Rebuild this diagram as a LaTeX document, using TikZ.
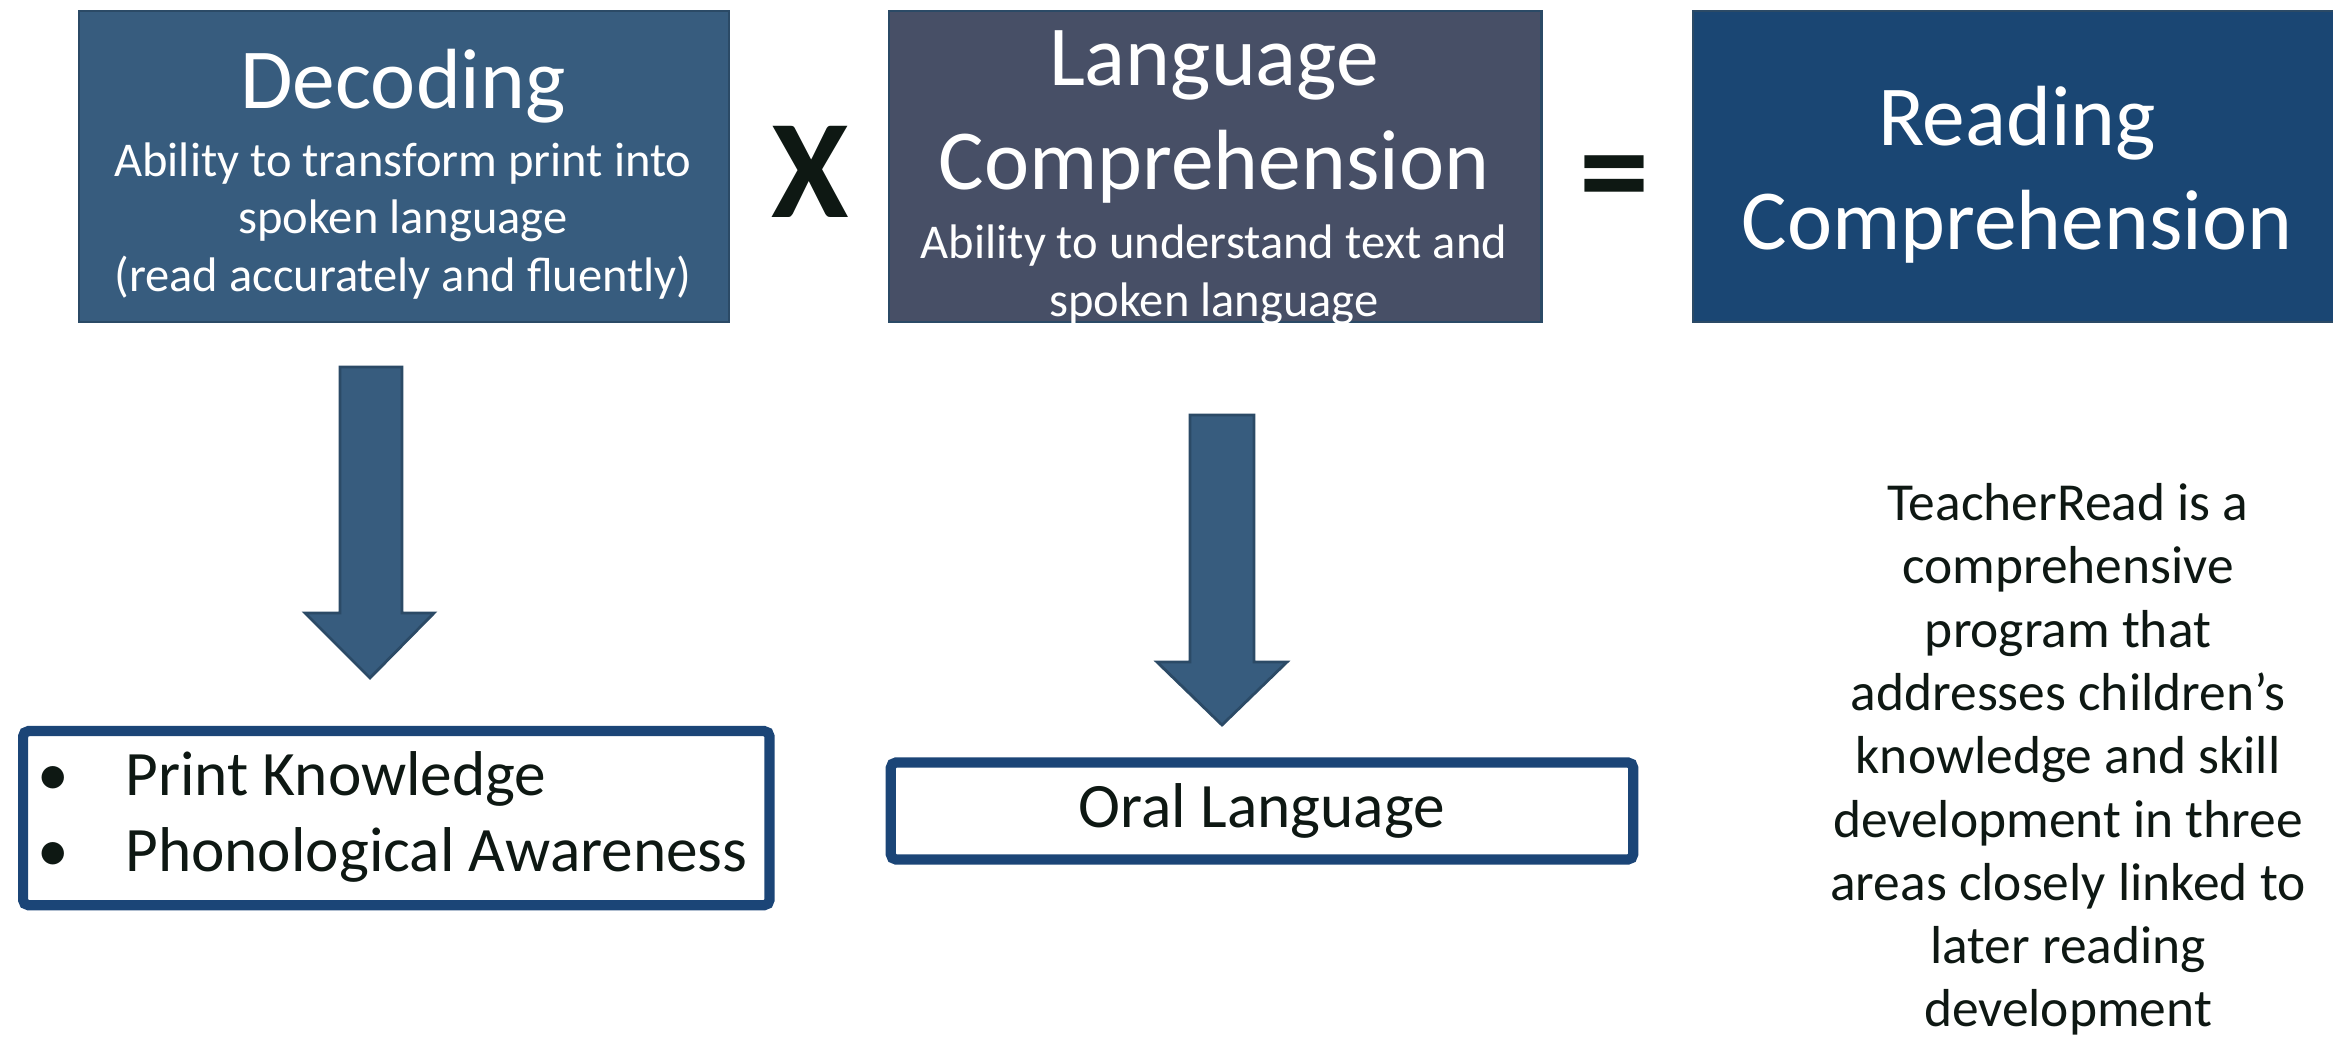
\documentclass[tikz,border=0pt]{standalone}
\usepackage{fontspec}
\setmainfont{Carlito}
\usepackage{tikz}
\usetikzlibrary{calc}
\definecolor{decblue}{HTML}{375C7E}
\definecolor{langslate}{HTML}{474F66}
\definecolor{readnavy}{HTML}{1A4673}
\definecolor{edgeblue}{HTML}{2B4A66}
\definecolor{lineblue}{HTML}{1B4577}
\definecolor{symblack}{HTML}{0E1813}
\tikzset{
  topbox/.style={draw=edgeblue, line width=0.6pt, anchor=north west, inner sep=0pt,
    minimum width=6.5cm, minimum height=3.11cm},
  title/.style={anchor=base, text=white, font=\fontsize{24.3}{29}\selectfont},
  subtitle/.style={anchor=base, text=white, font=\fontsize{13.8}{16.5}\selectfont},
  sign/.style={text=symblack, font=\fontsize{40}{44}\selectfont\bfseries},
  blockarrow/.style={fill=decblue, draw=edgeblue, line width=0.8pt, line join=miter},
  listbox/.style={draw=lineblue, line width=2.9pt, rounded corners=1.5pt, anchor=north west,
    inner sep=0pt},
  item/.style={anchor=base west, text=symblack, font=\fontsize{18}{22}\selectfont}
}
\begin{document}
\begin{tikzpicture}[x=0.01cm,y=-0.01cm]
\useasboundingbox (0,0) rectangle (2333,1037);

% the three boxes on top
\node[topbox, fill=decblue] (decbox) at (78,10) {};
\node[topbox, fill=langslate, minimum width=6.52cm] (langbox) at (888,10) {};
\node[topbox, fill=readnavy] (readbox) at (1692,10) {};

\node[title] (dectitle) at (403,109) {Decoding};
\node[subtitle] (decsub1) at (403,177) {Ability to transform print into};
\node[subtitle] (decsub2) at (403,234) {spoken language};
\node[subtitle] (decsub3) at (403,292) {(read accurately and fluently)};

\node[title] (langtitle1) at (1214,86) {Language};
\node[title] (langtitle2) at (1214,190) {Comprehension};
\node[subtitle] (langsub1) at (1214,259) {Ability to understand text and};
\node[subtitle] (langsub2) at (1214,317) {spoken language};

\node[title] (readtitle1) at (2017,146) {Reading};
\node[title] (readtitle2) at (2017,250) {Comprehension};

\node[sign] (times) at (810,172) {X};
\node[sign] (equals) at (1615,187) {=};

% block arrows
\draw[blockarrow] (340,367) -- (402,367) -- (402,613) -- (434,613) -- (370,678)
  -- (305,613) -- (340,613) -- cycle;
\draw[blockarrow] (1190,415) -- (1254,415) -- (1254,662) -- (1287,662) -- (1222,725)
  -- (1157,662) -- (1190,662) -- cycle;

% lower boxes
\node[listbox, minimum width=7.46cm, minimum height=1.74cm] (decbottom) at (18,726) {};
\node[item] (bullet1) at (25,795) {•};
\node[item] (print) at (113,795) {Print Knowledge};
\node[item] (bullet2) at (25,871) {•};
\node[item] (phono) at (113,871) {Phonological Awareness};

\node[listbox, minimum width=7.42cm, minimum height=0.97cm, anchor=center,
  text=symblack, font=\fontsize{18}{22}\selectfont] (oral) at (1262,811) {Oral Language};

% note on the right
\node[anchor=north, align=center, text=symblack, font=\fontsize{15.2}{18.0}\selectfont]
  (note) at (2068,471) {TeacherRead is a\\comprehensive\\program that\\addresses children’s\\knowledge and skill\\development in three\\areas closely linked to\\later reading\\development};
\end{tikzpicture}
\end{document}
